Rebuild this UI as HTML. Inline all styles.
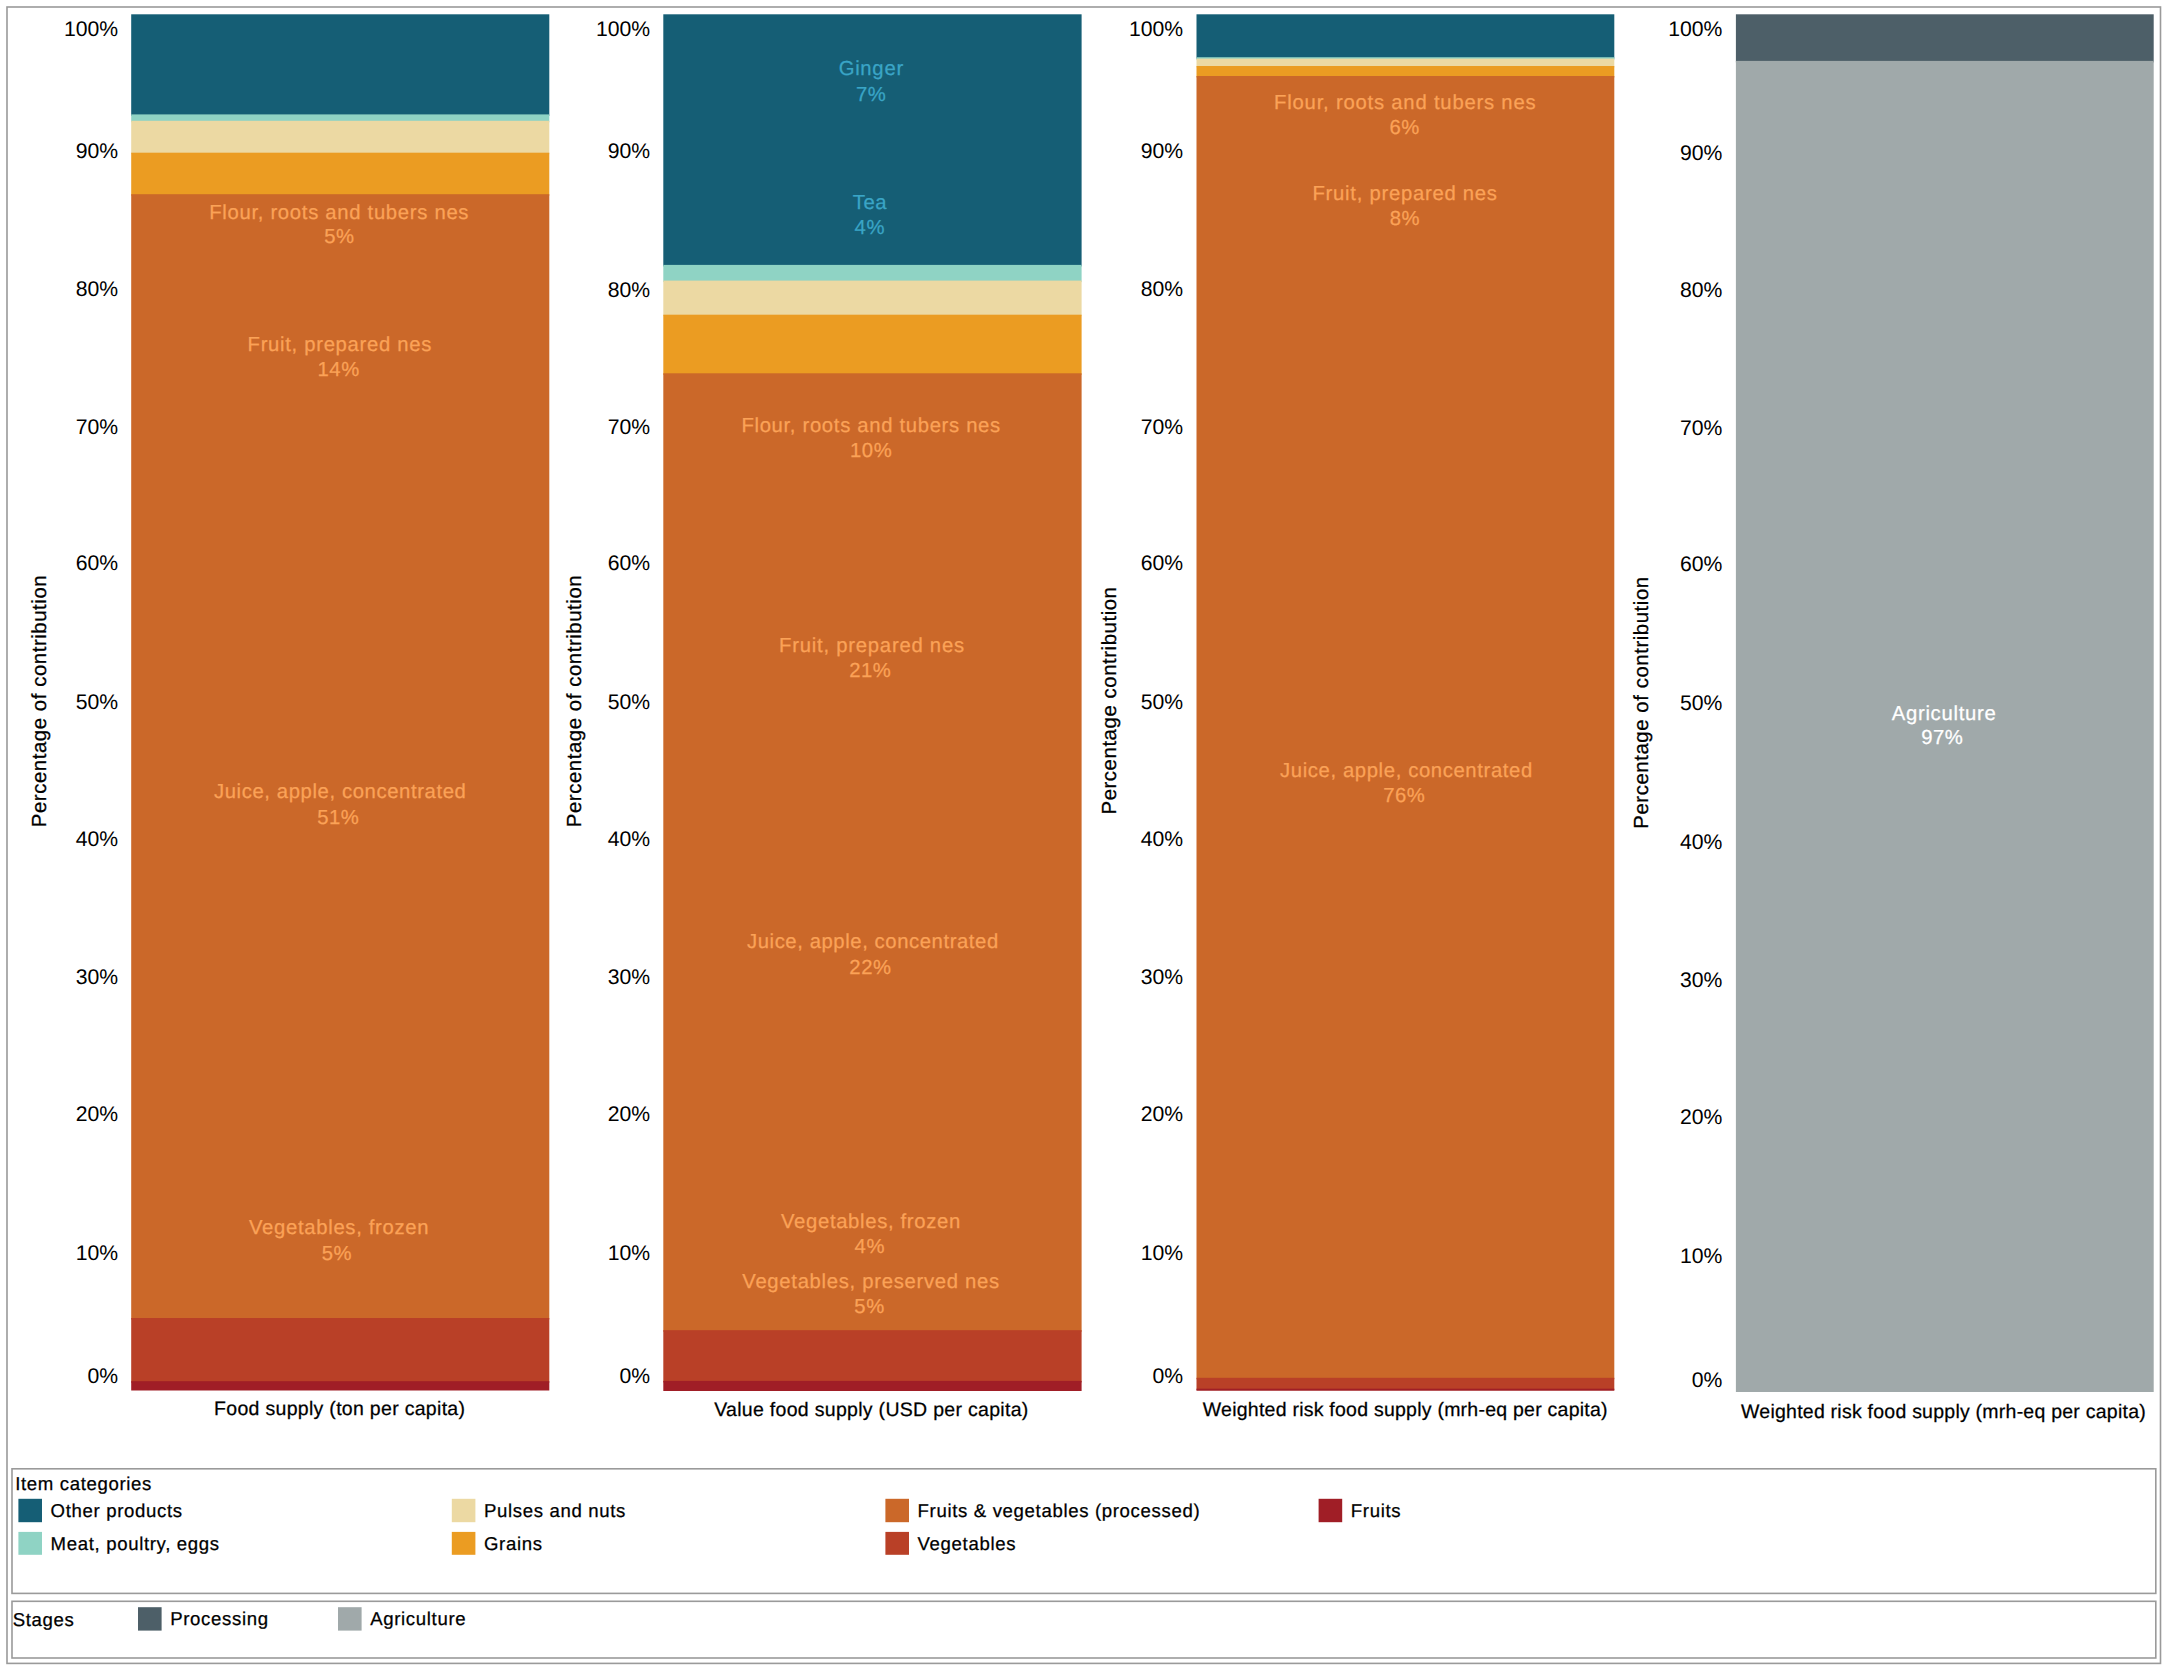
<!DOCTYPE html>
<html lang="en">
<head>
<meta charset="utf-8">
<title>Contribution charts</title>
<style>
html,body{margin:0;padding:0;background:#fff;}
body{width:2168px;height:1673px;overflow:hidden;}
svg{display:block;font-family:"Liberation Sans", sans-serif;}
</style>
</head>
<body>
<svg width="2168" height="1673" viewBox="0 0 2168 1673" shape-rendering="geometricPrecision" text-rendering="geometricPrecision">
<rect x="7.00" y="7.00" width="2153.50" height="1656.40" fill="none" stroke="#9a9a9a" stroke-width="1.6" shape-rendering="geometricPrecision"/>
<rect x="131.20" y="14.30" width="418.10" height="101.60" fill="#155e75"/>
<rect x="131.20" y="114.40" width="418.10" height="7.90" fill="#8fd3c4"/>
<rect x="131.20" y="120.80" width="418.10" height="33.40" fill="#ecd9a3"/>
<rect x="131.20" y="152.70" width="418.10" height="43.00" fill="#eb9c22"/>
<rect x="131.20" y="194.20" width="418.10" height="1125.30" fill="#cb6829"/>
<rect x="131.20" y="1318.00" width="418.10" height="64.70" fill="#b94027"/>
<rect x="131.20" y="1381.20" width="418.10" height="9.30" fill="#a01e26"/>
<rect x="663.30" y="14.30" width="418.30" height="252.10" fill="#155e75"/>
<rect x="663.30" y="264.90" width="418.30" height="17.20" fill="#8fd3c4"/>
<rect x="663.30" y="280.60" width="418.30" height="35.60" fill="#ecd9a3"/>
<rect x="663.30" y="314.70" width="418.30" height="60.10" fill="#eb9c22"/>
<rect x="663.30" y="373.30" width="418.30" height="958.40" fill="#cb6829"/>
<rect x="663.30" y="1330.20" width="418.30" height="52.20" fill="#b94027"/>
<rect x="663.30" y="1380.90" width="418.30" height="10.10" fill="#a01e26"/>
<rect x="1196.50" y="14.30" width="417.80" height="44.40" fill="#155e75"/>
<rect x="1196.50" y="57.20" width="417.80" height="2.90" fill="#8fd3c4"/>
<rect x="1196.50" y="58.60" width="417.80" height="8.90" fill="#ecd9a3"/>
<rect x="1196.50" y="66.00" width="417.80" height="11.50" fill="#eb9c22"/>
<rect x="1196.50" y="76.00" width="417.80" height="1303.30" fill="#cb6829"/>
<rect x="1196.50" y="1377.80" width="417.80" height="12.40" fill="#b94027"/>
<rect x="1196.50" y="1388.70" width="417.80" height="2.00" fill="#a01e26"/>
<rect x="1735.90" y="14.30" width="417.80" height="48.10" fill="#4d5f68"/>
<rect x="1735.90" y="60.90" width="417.80" height="1331.10" fill="#a0a9aa"/>
<text x="118.20" y="35.60" font-size="21.2" fill="#000" text-anchor="end" stroke="none">100%</text>
<text x="118.20" y="157.70" font-size="21.2" fill="#000" text-anchor="end" stroke="none">90%</text>
<text x="118.20" y="296.00" font-size="21.2" fill="#000" text-anchor="end" stroke="none">80%</text>
<text x="118.20" y="434.00" font-size="21.2" fill="#000" text-anchor="end" stroke="none">70%</text>
<text x="118.20" y="569.90" font-size="21.2" fill="#000" text-anchor="end" stroke="none">60%</text>
<text x="118.20" y="709.00" font-size="21.2" fill="#000" text-anchor="end" stroke="none">50%</text>
<text x="118.20" y="846.40" font-size="21.2" fill="#000" text-anchor="end" stroke="none">40%</text>
<text x="118.20" y="984.40" font-size="21.2" fill="#000" text-anchor="end" stroke="none">30%</text>
<text x="118.20" y="1121.30" font-size="21.2" fill="#000" text-anchor="end" stroke="none">20%</text>
<text x="118.20" y="1259.50" font-size="21.2" fill="#000" text-anchor="end" stroke="none">10%</text>
<text x="118.20" y="1383.20" font-size="21.2" fill="#000" text-anchor="end" stroke="none">0%</text>
<text x="650.20" y="35.60" font-size="21.2" fill="#000" text-anchor="end" stroke="none">100%</text>
<text x="650.20" y="157.70" font-size="21.2" fill="#000" text-anchor="end" stroke="none">90%</text>
<text x="650.20" y="296.60" font-size="21.2" fill="#000" text-anchor="end" stroke="none">80%</text>
<text x="650.20" y="434.40" font-size="21.2" fill="#000" text-anchor="end" stroke="none">70%</text>
<text x="650.20" y="569.90" font-size="21.2" fill="#000" text-anchor="end" stroke="none">60%</text>
<text x="650.20" y="709.00" font-size="21.2" fill="#000" text-anchor="end" stroke="none">50%</text>
<text x="650.20" y="846.40" font-size="21.2" fill="#000" text-anchor="end" stroke="none">40%</text>
<text x="650.20" y="984.40" font-size="21.2" fill="#000" text-anchor="end" stroke="none">30%</text>
<text x="650.20" y="1121.30" font-size="21.2" fill="#000" text-anchor="end" stroke="none">20%</text>
<text x="650.20" y="1259.50" font-size="21.2" fill="#000" text-anchor="end" stroke="none">10%</text>
<text x="650.20" y="1383.20" font-size="21.2" fill="#000" text-anchor="end" stroke="none">0%</text>
<text x="1183.10" y="35.60" font-size="21.2" fill="#000" text-anchor="end" stroke="none">100%</text>
<text x="1183.10" y="157.70" font-size="21.2" fill="#000" text-anchor="end" stroke="none">90%</text>
<text x="1183.10" y="296.00" font-size="21.2" fill="#000" text-anchor="end" stroke="none">80%</text>
<text x="1183.10" y="434.00" font-size="21.2" fill="#000" text-anchor="end" stroke="none">70%</text>
<text x="1183.10" y="569.90" font-size="21.2" fill="#000" text-anchor="end" stroke="none">60%</text>
<text x="1183.10" y="709.00" font-size="21.2" fill="#000" text-anchor="end" stroke="none">50%</text>
<text x="1183.10" y="846.40" font-size="21.2" fill="#000" text-anchor="end" stroke="none">40%</text>
<text x="1183.10" y="984.40" font-size="21.2" fill="#000" text-anchor="end" stroke="none">30%</text>
<text x="1183.10" y="1121.30" font-size="21.2" fill="#000" text-anchor="end" stroke="none">20%</text>
<text x="1183.10" y="1259.50" font-size="21.2" fill="#000" text-anchor="end" stroke="none">10%</text>
<text x="1183.10" y="1383.20" font-size="21.2" fill="#000" text-anchor="end" stroke="none">0%</text>
<text x="1722.40" y="35.80" font-size="21.2" fill="#000" text-anchor="end" stroke="none">100%</text>
<text x="1722.40" y="160.10" font-size="21.2" fill="#000" text-anchor="end" stroke="none">90%</text>
<text x="1722.40" y="296.90" font-size="21.2" fill="#000" text-anchor="end" stroke="none">80%</text>
<text x="1722.40" y="435.40" font-size="21.2" fill="#000" text-anchor="end" stroke="none">70%</text>
<text x="1722.40" y="571.30" font-size="21.2" fill="#000" text-anchor="end" stroke="none">60%</text>
<text x="1722.40" y="709.90" font-size="21.2" fill="#000" text-anchor="end" stroke="none">50%</text>
<text x="1722.40" y="848.60" font-size="21.2" fill="#000" text-anchor="end" stroke="none">40%</text>
<text x="1722.40" y="986.50" font-size="21.2" fill="#000" text-anchor="end" stroke="none">30%</text>
<text x="1722.40" y="1124.20" font-size="21.2" fill="#000" text-anchor="end" stroke="none">20%</text>
<text x="1722.40" y="1263.30" font-size="21.2" fill="#000" text-anchor="end" stroke="none">10%</text>
<text x="1722.40" y="1386.80" font-size="21.2" fill="#000" text-anchor="end" stroke="none">0%</text>
<text transform="translate(45.50,701.00) rotate(-90)" font-size="20.4" fill="#000" text-anchor="middle" letter-spacing="0.55" stroke="#000" stroke-width="0.25">Percentage of contribution</text>
<text transform="translate(581.10,701.00) rotate(-90)" font-size="20.4" fill="#000" text-anchor="middle" letter-spacing="0.55" stroke="#000" stroke-width="0.25">Percentage of contribution</text>
<text transform="translate(1115.60,700.50) rotate(-90)" font-size="20.4" fill="#000" text-anchor="middle" letter-spacing="0.55" stroke="#000" stroke-width="0.25">Percentage contribution</text>
<text transform="translate(1647.70,702.50) rotate(-90)" font-size="20.4" fill="#000" text-anchor="middle" letter-spacing="0.55" stroke="#000" stroke-width="0.25">Percentage of contribution</text>
<text x="339.70" y="1415.20" font-size="19.5" fill="#000" text-anchor="middle" letter-spacing="0.3" stroke="#000" stroke-width="0.25">Food supply (ton per capita)</text>
<text x="871.40" y="1415.50" font-size="19.5" fill="#000" text-anchor="middle" letter-spacing="0.3" stroke="#000" stroke-width="0.25">Value food supply (USD per capita)</text>
<text x="1405.30" y="1415.70" font-size="19.5" fill="#000" text-anchor="middle" letter-spacing="0.24" stroke="#000" stroke-width="0.25">Weighted risk food supply (mrh-eq per capita)</text>
<text x="1943.50" y="1417.50" font-size="19.5" fill="#000" text-anchor="middle" letter-spacing="0.24" stroke="#000" stroke-width="0.25">Weighted risk food supply (mrh-eq per capita)</text>
<text x="209.21" y="219.20" font-size="20.3" fill="#fba257" text-anchor="start" letter-spacing="0.694" stroke="#fba257" stroke-width="0.25">Flour, roots and tubers nes</text>
<text x="324.17" y="243.30" font-size="20.3" fill="#fba257" text-anchor="start" letter-spacing="0.500" stroke="#fba257" stroke-width="0.25">5%</text>
<text x="247.61" y="350.70" font-size="20.3" fill="#fba257" text-anchor="start" letter-spacing="0.684" stroke="#fba257" stroke-width="0.25">Fruit, prepared nes</text>
<text x="317.60" y="375.80" font-size="20.3" fill="#fba257" text-anchor="start" letter-spacing="0.500" stroke="#fba257" stroke-width="0.25">14%</text>
<text x="213.98" y="797.60" font-size="20.3" fill="#fba257" text-anchor="start" letter-spacing="0.603" stroke="#fba257" stroke-width="0.25">Juice, apple, concentrated</text>
<text x="317.17" y="823.50" font-size="20.3" fill="#fba257" text-anchor="start" letter-spacing="0.500" stroke="#fba257" stroke-width="0.25">51%</text>
<text x="249.00" y="1233.50" font-size="20.3" fill="#fba257" text-anchor="start" letter-spacing="0.681" stroke="#fba257" stroke-width="0.25">Vegetables, frozen</text>
<text x="321.72" y="1259.50" font-size="20.3" fill="#fba257" text-anchor="start" letter-spacing="0.500" stroke="#fba257" stroke-width="0.25">5%</text>
<text x="838.65" y="75.40" font-size="20.3" fill="#3aa5c6" text-anchor="start" letter-spacing="0.724" stroke="#3aa5c6" stroke-width="0.25">Ginger</text>
<text x="856.01" y="100.80" font-size="20.3" fill="#3aa5c6" text-anchor="start" letter-spacing="0.500" stroke="#3aa5c6" stroke-width="0.25">7%</text>
<text x="852.76" y="209.00" font-size="20.3" fill="#3aa5c6" text-anchor="start" letter-spacing="0.500" stroke="#3aa5c6" stroke-width="0.25">Tea</text>
<text x="854.62" y="233.70" font-size="20.3" fill="#3aa5c6" text-anchor="start" letter-spacing="0.500" stroke="#3aa5c6" stroke-width="0.25">4%</text>
<text x="741.41" y="432.20" font-size="20.3" fill="#fba257" text-anchor="start" letter-spacing="0.675" stroke="#fba257" stroke-width="0.25">Flour, roots and tubers nes</text>
<text x="850.10" y="457.30" font-size="20.3" fill="#fba257" text-anchor="start" letter-spacing="0.500" stroke="#fba257" stroke-width="0.25">10%</text>
<text x="779.11" y="651.80" font-size="20.3" fill="#fba257" text-anchor="start" letter-spacing="0.756" stroke="#fba257" stroke-width="0.25">Fruit, prepared nes</text>
<text x="849.21" y="677.00" font-size="20.3" fill="#fba257" text-anchor="start" letter-spacing="0.500" stroke="#fba257" stroke-width="0.25">21%</text>
<text x="746.98" y="948.30" font-size="20.3" fill="#fba257" text-anchor="start" letter-spacing="0.579" stroke="#fba257" stroke-width="0.25">Juice, apple, concentrated</text>
<text x="849.36" y="974.30" font-size="20.3" fill="#fba257" text-anchor="start" letter-spacing="0.500" stroke="#fba257" stroke-width="0.25">22%</text>
<text x="781.00" y="1227.60" font-size="20.3" fill="#fba257" text-anchor="start" letter-spacing="0.658" stroke="#fba257" stroke-width="0.25">Vegetables, frozen</text>
<text x="854.62" y="1253.40" font-size="20.3" fill="#fba257" text-anchor="start" letter-spacing="0.500" stroke="#fba257" stroke-width="0.25">4%</text>
<text x="742.30" y="1287.80" font-size="20.3" fill="#fba257" text-anchor="start" letter-spacing="0.694" stroke="#fba257" stroke-width="0.25">Vegetables, preserved nes</text>
<text x="854.37" y="1313.40" font-size="20.3" fill="#fba257" text-anchor="start" letter-spacing="0.500" stroke="#fba257" stroke-width="0.25">5%</text>
<text x="1274.11" y="108.50" font-size="20.3" fill="#fba257" text-anchor="start" letter-spacing="0.779" stroke="#fba257" stroke-width="0.25">Flour, roots and tubers nes</text>
<text x="1389.51" y="133.70" font-size="20.3" fill="#fba257" text-anchor="start" letter-spacing="0.500" stroke="#fba257" stroke-width="0.25">6%</text>
<text x="1312.41" y="199.90" font-size="20.3" fill="#fba257" text-anchor="start" letter-spacing="0.734" stroke="#fba257" stroke-width="0.25">Fruit, prepared nes</text>
<text x="1389.67" y="225.10" font-size="20.3" fill="#fba257" text-anchor="start" letter-spacing="0.500" stroke="#fba257" stroke-width="0.25">8%</text>
<text x="1279.98" y="776.60" font-size="20.3" fill="#fba257" text-anchor="start" letter-spacing="0.619" stroke="#fba257" stroke-width="0.25">Juice, apple, concentrated</text>
<text x="1383.31" y="801.50" font-size="20.3" fill="#fba257" text-anchor="start" letter-spacing="0.500" stroke="#fba257" stroke-width="0.25">76%</text>
<text x="1891.70" y="720.00" font-size="20.3" fill="#ffffff" text-anchor="start" letter-spacing="0.709" stroke="#ffffff" stroke-width="0.25">Agriculture</text>
<text x="1921.31" y="744.40" font-size="20.3" fill="#ffffff" text-anchor="start" letter-spacing="0.500" stroke="#ffffff" stroke-width="0.25">97%</text>
<rect x="12.00" y="1468.80" width="2143.80" height="124.60" fill="none" stroke="#9a9a9a" stroke-width="1.6" shape-rendering="geometricPrecision"/>
<rect x="12.00" y="1601.30" width="2143.80" height="56.70" fill="none" stroke="#9a9a9a" stroke-width="1.6" shape-rendering="geometricPrecision"/>
<text x="15.20" y="1490.30" font-size="18.6" fill="#000" text-anchor="start" letter-spacing="0.65" stroke="#000" stroke-width="0.25">Item categories</text>
<rect x="18.40" y="1498.80" width="23.60" height="23.40" fill="#155e75"/>
<text x="50.60" y="1517.00" font-size="18.6" fill="#000" text-anchor="start" letter-spacing="0.65" stroke="#000" stroke-width="0.25">Other products</text>
<rect x="18.40" y="1531.90" width="23.60" height="22.90" fill="#8fd3c4"/>
<text x="50.60" y="1550.00" font-size="18.6" fill="#000" text-anchor="start" letter-spacing="0.65" stroke="#000" stroke-width="0.25">Meat, poultry, eggs</text>
<rect x="451.80" y="1498.80" width="23.60" height="23.40" fill="#ecd9a3"/>
<text x="484.00" y="1517.00" font-size="18.6" fill="#000" text-anchor="start" letter-spacing="0.65" stroke="#000" stroke-width="0.25">Pulses and nuts</text>
<rect x="451.80" y="1531.90" width="23.60" height="22.90" fill="#eb9c22"/>
<text x="484.00" y="1550.00" font-size="18.6" fill="#000" text-anchor="start" letter-spacing="0.65" stroke="#000" stroke-width="0.25">Grains</text>
<rect x="885.40" y="1498.80" width="23.60" height="23.40" fill="#cb6829"/>
<text x="917.60" y="1517.00" font-size="18.6" fill="#000" text-anchor="start" letter-spacing="0.65" stroke="#000" stroke-width="0.25">Fruits &amp; vegetables (processed)</text>
<rect x="885.40" y="1531.90" width="23.60" height="22.90" fill="#b94027"/>
<text x="917.60" y="1550.00" font-size="18.6" fill="#000" text-anchor="start" letter-spacing="0.65" stroke="#000" stroke-width="0.25">Vegetables</text>
<rect x="1318.60" y="1498.80" width="23.60" height="23.40" fill="#a01e26"/>
<text x="1350.80" y="1517.00" font-size="18.6" fill="#000" text-anchor="start" letter-spacing="0.65" stroke="#000" stroke-width="0.25">Fruits</text>
<text x="12.70" y="1625.70" font-size="18.6" fill="#000" text-anchor="start" letter-spacing="0.65" stroke="#000" stroke-width="0.25">Stages</text>
<rect x="138.00" y="1607.20" width="23.60" height="23.40" fill="#4d5f68"/>
<text x="170.20" y="1625.40" font-size="18.6" fill="#000" text-anchor="start" letter-spacing="0.65" stroke="#000" stroke-width="0.25">Processing</text>
<rect x="338.00" y="1607.20" width="23.60" height="23.40" fill="#a0a9aa"/>
<text x="370.20" y="1625.40" font-size="18.6" fill="#000" text-anchor="start" letter-spacing="0.65" stroke="#000" stroke-width="0.25">Agriculture</text>
</svg>
</body>
</html>
